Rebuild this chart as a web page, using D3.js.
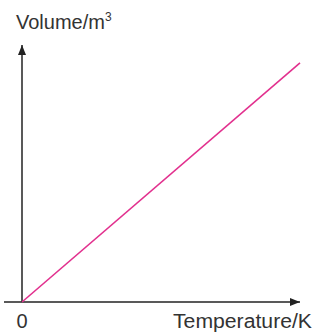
<!DOCTYPE html>
<html>
<head>
<meta charset="utf-8">
<script src="https://cdn.jsdelivr.net/npm/d3@7"></script>
<style>
  html, body { margin: 0; padding: 0; background: #fff; }
  svg { display: block; font-family: "Liberation Sans", Arial, sans-serif; }
</style>
</head>
<body>
<div id="chart"></div>
<script>
// data: volume is proportional to temperature
const temperature = [0, 100]
const volume = [0, 86]
const xTicks = ['0']
const xLabel = 'Temperature/K'
const yLabel = 'Volume/m'

const W = 313
const H = 334
const AXIS = '#222'
const FONT = 20

const svg = d3.select('#chart').append('svg').attr('width', W).attr('height', H)

const x = d3.scaleLinear().domain([0, 100]).range([22, 300])
const y = d3.scaleLinear().domain([0, 100]).range([302, 24])

// arrow heads
svg.append('defs').append('marker')
  .attr('id', 'arrow')
  .attr('viewBox', '0 0 10 8')
  .attr('refX', 10).attr('refY', 4)
  .attr('markerWidth', 11).attr('markerHeight', 8)
  .attr('markerUnits', 'userSpaceOnUse')
  .attr('orient', 'auto')
  .append('path').attr('d', 'M0,0L10,4L0,8Z').attr('fill', AXIS)

// horizontal axis runs a little past the origin on the left
svg.append('line')
  .attr('x1', 4).attr('y1', y(0))
  .attr('x2', x(100)).attr('y2', y(0))
  .attr('stroke', AXIS).attr('stroke-width', 1.5)
  .attr('marker-end', 'url(#arrow)')

svg.append('line')
  .attr('x1', x(0)).attr('y1', y(0))
  .attr('x2', x(0)).attr('y2', 45)
  .attr('stroke', AXIS).attr('stroke-width', 1.5)
  .attr('marker-end', 'url(#arrow)')

// the proportional line
const line = d3.line().x((d) => x(d[0])).y((d) => y(d[1]))
svg.append('path')
  .datum(d3.zip(temperature, volume))
  .attr('d', line)
  .attr('fill', 'none')
  .attr('stroke', '#e2308e')
  .attr('stroke-width', 1.6)

// labels
svg.selectAll('.tick').data(xTicks).enter().append('text')
  .attr('x', x(0)).attr('y', 328)
  .attr('text-anchor', 'middle')
  .attr('font-size', FONT).attr('fill', '#333')
  .text((d) => d)

svg.append('text')
  .attr('x', 312).attr('y', 328)
  .attr('text-anchor', 'end')
  .attr('font-size', FONT).attr('fill', '#333')
  .attr('textLength', 139).attr('lengthAdjust', 'spacingAndGlyphs')
  .text(xLabel)

const yl = svg.append('text')
  .attr('x', 16).attr('y', 29)
  .attr('font-size', FONT).attr('fill', '#333')
  .text(yLabel)
yl.append('tspan').attr('font-size', 12).attr('dy', -8).text('3')
</script>
</body>
</html>
